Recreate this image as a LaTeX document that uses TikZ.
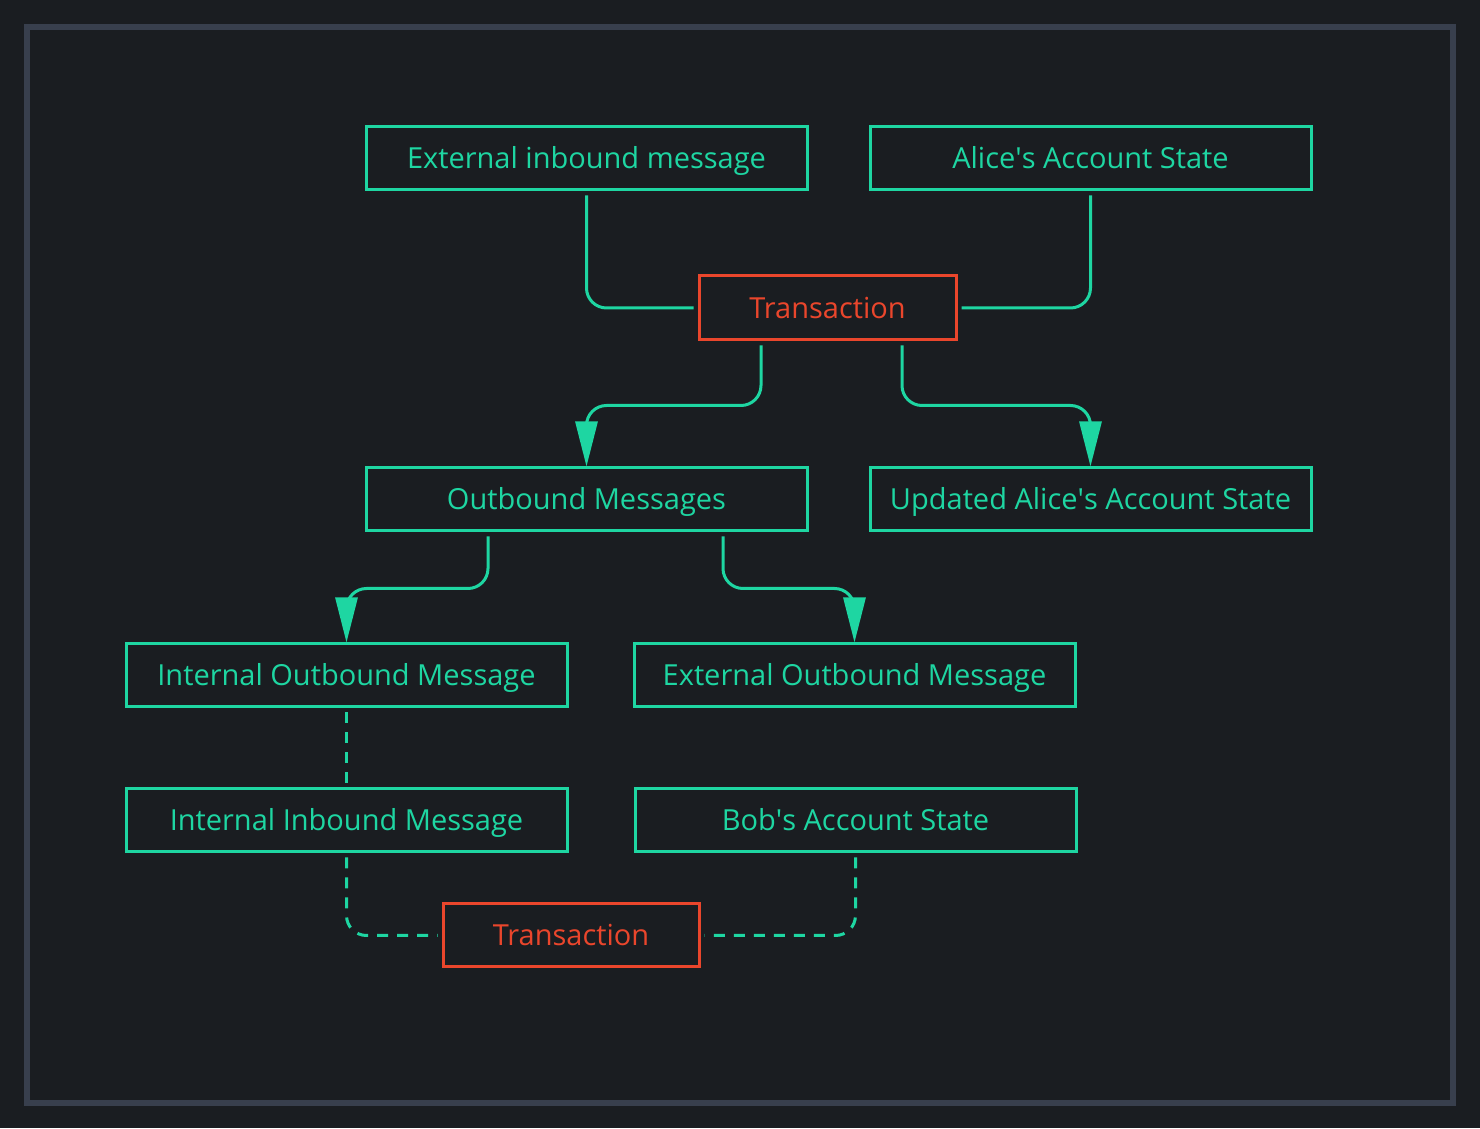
\documentclass[tikz,border=0pt]{standalone}
\usepackage{fontspec}
\setmainfont{Open Sans}
\usetikzlibrary{positioning,arrows.meta}
\definecolor{FlowGreen}{RGB}{30,214,162}
\definecolor{TxRed}{RGB}{234,70,44}
\definecolor{PageBg}{RGB}{26,29,33}
\definecolor{FrameGray}{RGB}{56,63,77}
\newcommand{\apos}{\textquotesingle}

\begin{document}
\begin{tikzpicture}[
    box/.style={rectangle, draw=FlowGreen, line width=0.03cm, fill=PageBg,
        minimum width=4.41cm, minimum height=0.63cm, inner sep=0pt,
        text height=0.9em, text depth=0.32em,
        font=\fontsize{8.25}{10}\selectfont, text=FlowGreen, align=center},
    txbox/.style={box, draw=TxRed, text=TxRed, minimum width=2.57cm, minimum height=0.64cm},
    link/.style={draw=FlowGreen, line width=0.03cm, rounded corners=0.2cm,
        shorten <=0.04cm, shorten >=0.04cm},
    flow/.style={draw=FlowGreen, line width=0.03cm, rounded corners=0.2cm,
        shorten <=0.04cm, -{Triangle[length=0.45cm, width=0.22cm]}},
    ghost/.style={link, dash pattern=on 0.11cm off 0.09cm}
]
% page and frame
\fill[PageBg] (0,0) rectangle (14.8,11.28);
\useasboundingbox (0,0) rectangle (14.8,11.28);
\draw[FrameGray, line width=0.06cm] (0.27,0.25) rectangle (14.53,11.01);

% sender side
\node[box] (extin) at (5.865, 9.695) {External inbound message};
\node[box] (alice) at (10.905, 9.695) {Alice\apos s Account State};
\node[txbox] (txa) at (8.275, 8.20) {Transaction};
\node[box] (outmsg) at (5.865, 6.285) {Outbound Messages};
\node[box] (alicenew) at (10.905, 6.285) {Updated Alice\apos s Account State};
\node[box] (intout) at (3.465, 4.525) {Internal Outbound Message};
\node[box] (extout) at (8.545, 4.525) {External Outbound Message};

% receiver side
\node[box] (intin) at (3.465, 3.075) {Internal Inbound Message};
\node[box] (bob) at (8.555, 3.075) {Bob\apos s Account State};
\node[txbox, minimum height=0.63cm, minimum width=2.56cm] (txb) at (5.71, 1.925) {Transaction};

\draw[link] (extin.south) |- (txa.west);
\draw[link] (alice.south) |- (txa.east);
\draw[flow] ([xshift=-0.665cm]txa.south) -- ++(0,-0.64) -| (outmsg.north);
\draw[flow] ([xshift=0.745cm]txa.south) -- ++(0,-0.64) -| (alicenew.north);
\draw[flow] ([xshift=-0.985cm]outmsg.south) -- ++(0,-0.56) -| (intout.north);
\draw[flow] ([xshift=1.365cm]outmsg.south) -- ++(0,-0.56) -| (extout.north);

\draw[ghost] (intout.south) -- (intin.north);
\draw[ghost] (intin.south) |- (txb.west);
\draw[ghost] (bob.south) |- (txb.east);
\end{tikzpicture}
\end{document}
